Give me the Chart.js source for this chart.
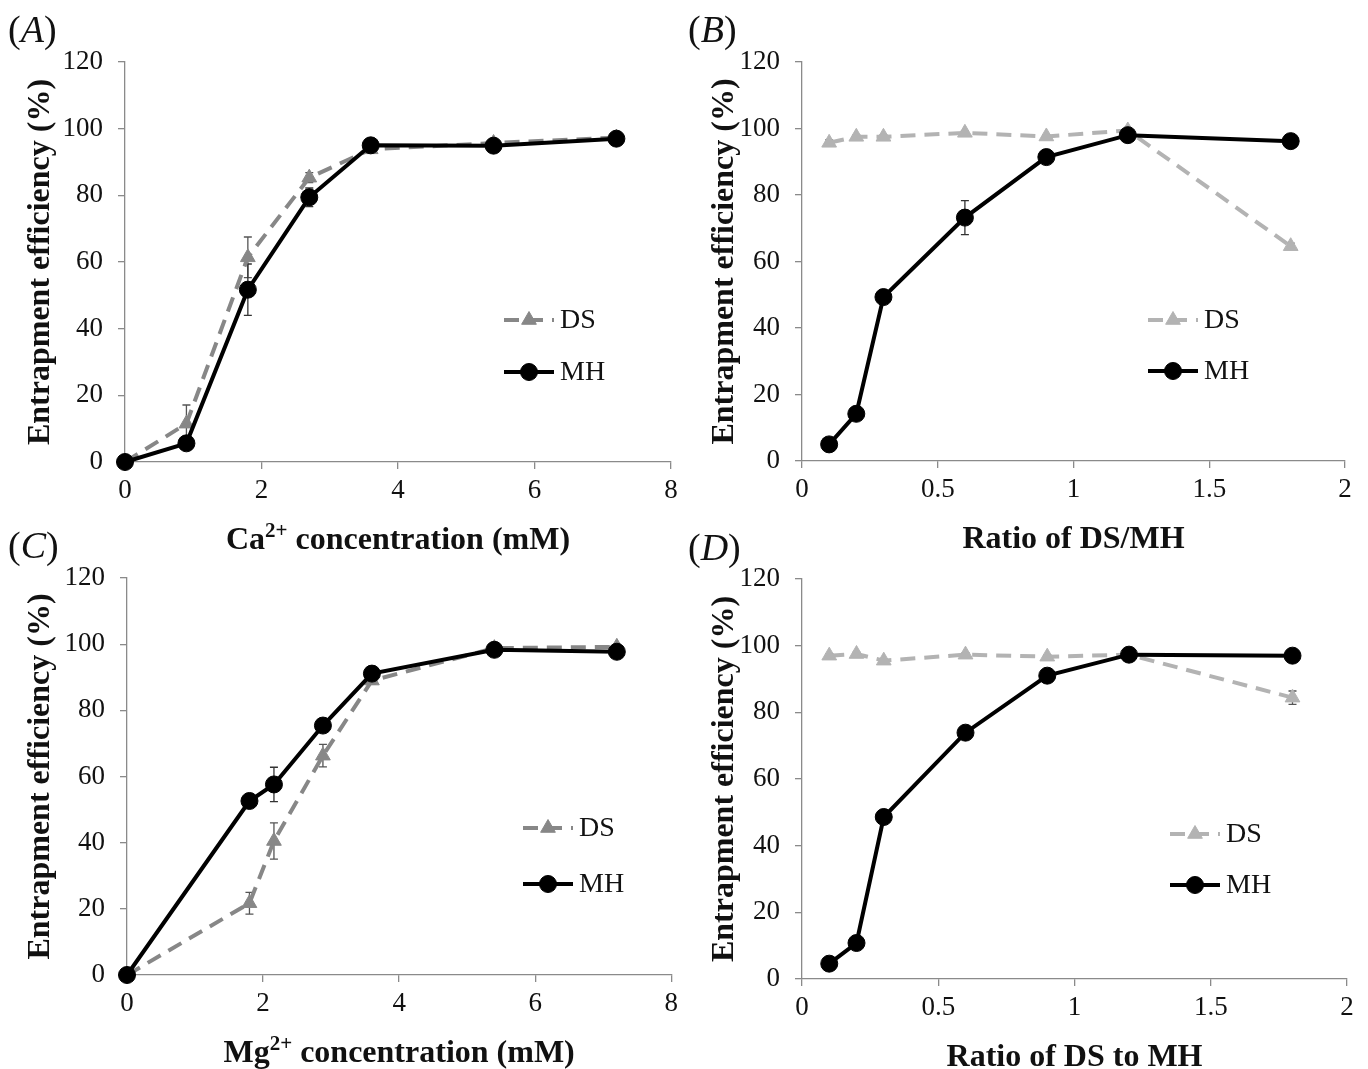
<!DOCTYPE html>
<html><head><meta charset="utf-8">
<script src="https://cdn.jsdelivr.net/npm/chart.js@4.4.1/dist/chart.umd.min.js"></script>
<style>
html,body{margin:0;padding:0;background:#fff;width:1368px;height:1069px;overflow:hidden;}
canvas{position:absolute;}
.lbl{position:absolute;font-family:'Liberation Serif','Times New Roman',serif;font-size:38px;color:#111;line-height:1;}
.lbl i{font-style:italic;}
</style></head><body>
<canvas id="cA" width="684" height="560" style="left:0;top:0;width:684px;height:560px"></canvas>
<canvas id="cB" width="684" height="560" style="left:684px;top:0;width:684px;height:560px"></canvas>
<canvas id="cC" width="684" height="549" style="left:0;top:520px;width:684px;height:549px"></canvas>
<canvas id="cD" width="684" height="549" style="left:684px;top:520px;width:684px;height:549px"></canvas>
<div class="lbl" style="left:8px;top:10px">(<i>A</i>)</div>
<div class="lbl" style="left:688px;top:10px">(<i>B</i>)</div>
<div class="lbl" style="left:8px;top:526px">(<i>C</i>)</div>
<div class="lbl" style="left:688px;top:528px">(<i>D</i>)</div>
<script>
// ---------- data ----------
const seriesNames = ['DS', 'MH'];
const yTitle = 'Entrapment efficiency (%)';
const yTicks = [0, 20, 40, 60, 80, 100, 120];

// Panel A: Ca2+ concentration
const xCa = [0, 0.9, 1.8, 2.7, 3.6, 5.4, 7.2];
const dsCa = [0, 11.5, 61.4, 85.3, 93.8, 95.7, 97.3];
const dsCaErr = [0, 5.6, 6.1, 1.5, 0.8, 0.8, 0.6];
const mhCa = [0, 5.6, 51.7, 79.4, 95.0, 94.9, 97.0];
const mhCaErr = [0, 0.8, 7.7, 2.8, 0.6, 0.6, 0.5];

// Panel B: ratio of DS/MH
const xRatioB = [0.1, 0.2, 0.3, 0.6, 0.9, 1.2, 1.8];
const dsB = [95.7, 97.5, 97.5, 98.7, 97.6, 99.4, 64.6];
const dsBErr = [0.9, 0.5, 0.5, 0.6, 0.5, 0.4, 0.9];
const mhB = [5.0, 14.2, 49.3, 73.2, 91.4, 98.0, 96.2];
const mhBErr = [0.5, 0.8, 1.0, 5.1, 1.0, 0.8, 0.7];

// Panel C: Mg2+ concentration
const xMg = [0, 1.8, 2.16, 2.88, 3.6, 5.4, 7.2];
const dsMg = [0, 21.7, 40.5, 66.3, 89.0, 98.8, 99.2];
const dsMgErr = [0, 3.3, 5.5, 3.4, 1.0, 0.5, 0.5];
const mhMg = [0, 52.6, 57.6, 75.4, 91.1, 98.3, 97.7];
const mhMgErr = [0, 0.8, 5.2, 1.0, 0.8, 0.5, 0.5];

// Panel D: ratio of DS to MH
const xRatioD = [0.1, 0.2, 0.3, 0.6, 0.9, 1.2, 1.8];
const dsD = [97.0, 97.5, 95.5, 97.3, 96.7, 97.3, 84.4];
const dsDErr = [0.6, 0.5, 0.5, 0.5, 0.5, 0.5, 2.0];
const mhD = [4.6, 10.8, 48.6, 73.9, 91.0, 97.3, 97.0];
const mhDErr = [0.5, 0.8, 1.0, 1.0, 1.0, 0.5, 0.5];

const xTitleA = [{t: 'Ca'}, {t: '2+', sup: true}, {t: ' concentration (mM)'}];
const xTitleB = [{t: 'Ratio of DS/MH'}];
const xTitleC = [{t: 'Mg'}, {t: '2+', sup: true}, {t: ' concentration (mM)'}];
const xTitleD = [{t: 'Ratio of DS to MH'}];

// ---------- helpers ----------
const FONT = "'Liberation Serif', 'Times New Roman', serif";
const AXIS = '#8a8a8a';

const toPts = (xs, ys) => xs.map((x, i) => ({x: x, y: ys[i]}));

const errorBars = {
  id: 'errorBars',
  beforeDatasetsDraw(chart) {
    const ctx = chart.ctx, xs = chart.scales.x, ys = chart.scales.y;
    chart.data.datasets.forEach(ds => {
      if (!ds.errors) return;
      ctx.save();
      ctx.strokeStyle = ds.errorColor; ctx.lineWidth = 1.3;
      ds.data.forEach((p, j) => {
        const e = ds.errors[j]; if (!e) return;
        const x = xs.getPixelForValue(p.x);
        const y1 = ys.getPixelForValue(p.y + e), y2 = ys.getPixelForValue(p.y - e);
        ctx.beginPath();
        ctx.moveTo(x, y1); ctx.lineTo(x, y2);
        ctx.moveTo(x - 4, y1); ctx.lineTo(x + 4, y1);
        ctx.moveTo(x - 4, y2); ctx.lineTo(x + 4, y2);
        ctx.stroke();
      });
      ctx.restore();
    });
  }
};

const inlineLegend = {
  id: 'inlineLegend',
  afterDraw(chart, args, o) {
    const ctx = chart.ctx, ca = chart.chartArea;
    chart.data.datasets.forEach((ds, i) => {
      const y = ca.top + o.rows[i];
      const x0 = ca.left + o.x, x1 = x0 + o.len;
      ctx.save();
      ctx.strokeStyle = ds.borderColor; ctx.lineWidth = ds.borderWidth;
      ctx.setLineDash(ds.borderDash || []);
      ctx.beginPath(); ctx.moveTo(x0, y); ctx.lineTo(x1, y); ctx.stroke();
      ctx.setLineDash([]);
      ctx.fillStyle = ds.pointBackgroundColor; ctx.strokeStyle = ds.pointBorderColor;
      ctx.lineWidth = 1;
      Chart.helpers.drawPoint(ctx, {pointStyle: ds.pointStyle, radius: ds.pointRadius, rotation: 0, borderWidth: 1}, (x0 + x1) / 2, y);
      ctx.fillStyle = '#111';
      ctx.font = '28px ' + FONT;
      ctx.textBaseline = 'middle'; ctx.textAlign = 'left';
      ctx.fillText(ds.label, x1 + o.gap, y + 1);
      ctx.restore();
    });
  }
};

const xTitlePlugin = {
  id: 'xTitle',
  afterDraw(chart, args, o) {
    const ctx = chart.ctx, ca = chart.chartArea;
    const big = 'bold 32px ' + FONT, small = 'bold 21px ' + FONT;
    ctx.save();
    let w = 0;
    o.parts.forEach(p => { ctx.font = p.sup ? small : big; w += ctx.measureText(p.t).width; });
    let x = (ca.left + ca.right) / 2 - w / 2;
    const y = ca.bottom + o.dy;
    ctx.fillStyle = '#111'; ctx.textBaseline = 'alphabetic'; ctx.textAlign = 'left';
    o.parts.forEach(p => {
      ctx.font = p.sup ? small : big;
      ctx.fillText(p.t, x, p.sup ? y - 12 : y);
      x += ctx.measureText(p.t).width;
    });
    ctx.restore();
  }
};

function panel(id, opts) {
  const c = document.getElementById(id);
  const W = c.width;
  const ds = {
    label: seriesNames[0], data: toPts(opts.x, opts.ds), errors: opts.dsErr, errorColor: '#555',
    borderColor: opts.dsColor, backgroundColor: opts.dsColor, borderWidth: 4, borderDash: [15, 9],
    pointStyle: 'triangle', pointRadius: 8.5, pointBackgroundColor: opts.dsColor, pointBorderColor: opts.dsColor,
    pointBorderWidth: 1, showLine: true, tension: 0, clip: false, order: 1
  };
  const mh = {
    label: seriesNames[1], data: toPts(opts.x, opts.mh), errors: opts.mhErr, errorColor: '#333',
    borderColor: '#000', backgroundColor: '#000', borderWidth: 4,
    pointStyle: 'circle', pointRadius: 8.5, pointBackgroundColor: '#000', pointBorderColor: '#000',
    pointBorderWidth: 1, showLine: true, tension: 0, clip: false, order: 0
  };
  return new Chart(c, {
    type: 'scatter',
    data: {datasets: [ds, mh]},
    plugins: [errorBars, inlineLegend, xTitlePlugin],
    options: {
      responsive: false, animation: false, devicePixelRatio: 1,
      layout: {padding: {left: 0, top: opts.area.top, right: W - opts.area.right, bottom: 0}},
      plugins: {
        legend: {display: false}, tooltip: {enabled: false},
        inlineLegend: opts.legend,
        xTitle: {parts: opts.xTitle, dy: opts.titleDy}
      },
      scales: {
        x: {
          type: 'linear', min: opts.xMin, max: opts.xMax,
          afterFit: s => { s.height = opts.area.bottom0; },
          ticks: {stepSize: opts.xStep, color: '#111', font: {family: FONT, size: 27}, padding: 6, maxRotation: 0,
                  callback: v => String(v)},
          grid: {drawOnChartArea: false, drawTicks: true, tickLength: 7, color: AXIS, lineWidth: 1.3},
          border: {display: true, color: AXIS, width: 1.3}
        },
        y: {
          type: 'linear', min: 0, max: 120,
          afterFit: s => { s.width = opts.area.left; },
          afterBuildTicks: s => { s.ticks = yTicks.map(v => ({value: v})); },
          ticks: {color: '#111', font: {family: FONT, size: 27}, padding: 15, callback: v => String(v)},
          grid: {drawOnChartArea: false, drawTicks: true, tickLength: 7, color: AXIS, lineWidth: 1.3},
          border: {display: true, color: AXIS, width: 1.3},
          title: {display: true, text: yTitle, color: '#111', font: {family: FONT, size: 32, weight: 'bold'}, padding: {top: 22, bottom: 0}}
        }
      }
    }
  });
}

panel('cA', {
  x: xCa, ds: dsCa, dsErr: dsCaErr, mh: mhCa, mhErr: mhCaErr, dsColor: '#878787',
  xMin: 0, xMax: 8, xStep: 2, xTitle: xTitleA, titleDy: 87,
  area: {left: 125, top: 62, right: 671, bottom0: 560 - 462},
  legend: {x: 379, len: 50, gap: 6, rows: [258, 310]}
});
panel('cB', {
  x: xRatioB, ds: dsB, dsErr: dsBErr, mh: mhB, mhErr: mhBErr, dsColor: '#b3b3b3',
  xMin: 0, xMax: 2, xStep: 0.5, xTitle: xTitleB, titleDy: 87,
  area: {left: 118, top: 62, right: 661, bottom0: 560 - 461},
  legend: {x: 346, len: 50, gap: 6, rows: [258, 309]}
});
panel('cC', {
  x: xMg, ds: dsMg, dsErr: dsMgErr, mh: mhMg, mhErr: mhMgErr, dsColor: '#878787',
  xMin: 0, xMax: 8, xStep: 2, xTitle: xTitleC, titleDy: 87,
  area: {left: 127, top: 58, right: 679, bottom0: 549 - 455},
  legend: {x: 396, len: 50, gap: 6, rows: [250, 306]}
});
panel('cD', {
  x: xRatioD, ds: dsD, dsErr: dsDErr, mh: mhD, mhErr: mhDErr, dsColor: '#b3b3b3',
  xMin: 0, xMax: 2, xStep: 0.5, xTitle: xTitleD, titleDy: 87,
  area: {left: 118, top: 59, right: 663, bottom0: 549 - 459},
  legend: {x: 368, len: 50, gap: 6, rows: [255, 306]}
});
</script>
</body></html>
